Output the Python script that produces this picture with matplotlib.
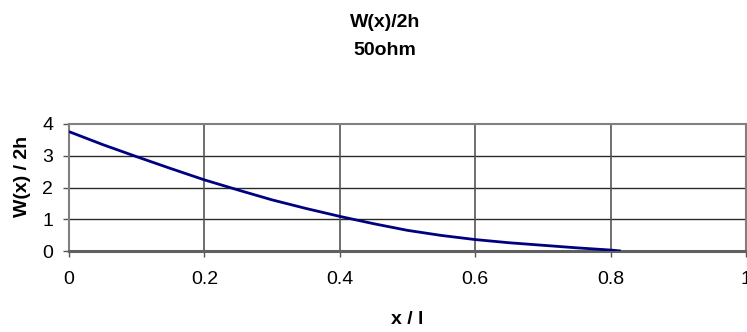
import matplotlib
matplotlib.use("Agg")
import matplotlib.pyplot as plt

# Data
x_vals = [0.0, 0.05, 0.1, 0.15, 0.2, 0.25, 0.3, 0.35, 0.4, 0.45, 0.5, 0.55, 0.6, 0.65, 0.7, 0.75, 0.8, 0.815]
w_vals = [3.76, 3.35, 2.97, 2.60, 2.24, 1.92, 1.61, 1.34, 1.09, 0.86, 0.65, 0.49, 0.36, 0.26, 0.18, 0.10, 0.03, 0.0]
x_ticks = [0, 0.2, 0.4, 0.6, 0.8, 1]
x_tick_labels = ["0", "0.2", "0.4", "0.6", "0.8", "1"]
y_ticks = [0, 1, 2, 3, 4]
title_line1 = "W(x)/2h"
title_line2 = "50ohm"
x_label = "x / l"
y_label = "W(x) / 2h"

plt.rcParams['font.family'] = ['Liberation Sans', 'DejaVu Sans']

W, H = 747, 332
fig = plt.figure(figsize=(W / 100, H / 100), dpi=100)
left, right, top, bottom = 69, 746, 124, 251
ax = fig.add_axes([left / W, (H - bottom) / H, (right - left) / W, (bottom - top) / H])

ax.plot(x_vals, w_vals, color='#000080', lw=2.0, solid_capstyle='butt', zorder=3)

ax.set_xlim(0, 1)
ax.set_ylim(0, 4)
ax.set_xticks(x_ticks)
ax.set_xticklabels(x_tick_labels)
ax.set_yticks(y_ticks)

for yv in [1, 2, 3]:
    ax.axhline(yv, color='#2a2a2a', lw=1.0, zorder=1)
for xv in [0.2, 0.4, 0.6, 0.8]:
    ax.axvline(xv, color='#555555', lw=1.2, zorder=1)

for s in ['top', 'right', 'left']:
    ax.spines[s].set_color('#808080')
    ax.spines[s].set_linewidth(1.5)
ax.spines['bottom'].set_color('#606060')
ax.spines['bottom'].set_linewidth(2.2)

ax.tick_params(axis='both', which='major', labelsize=14, colors='#000000',
               direction='out', length=4.5, width=1.0)
ax.tick_params(axis='x', pad=10, color='#555555')
ax.tick_params(axis='y', pad=7, color='#555555')

ax.set_xlabel(x_label, fontsize=14, fontweight='bold')
ax.xaxis.set_label_coords(0.5, -0.472)
ax.set_ylabel(y_label, fontsize=14, fontweight='bold')
ax.yaxis.set_label_coords(-0.056, 0.59)

fig.text(385 / W, 1 - 26.7 / H, title_line1, ha='center', va='baseline',
         fontsize=14, fontweight='bold')
fig.text(385 / W, 1 - 55 / H, title_line2, ha='center', va='baseline',
         fontsize=14, fontweight='bold')

fig.savefig("out.png", dpi=100)
